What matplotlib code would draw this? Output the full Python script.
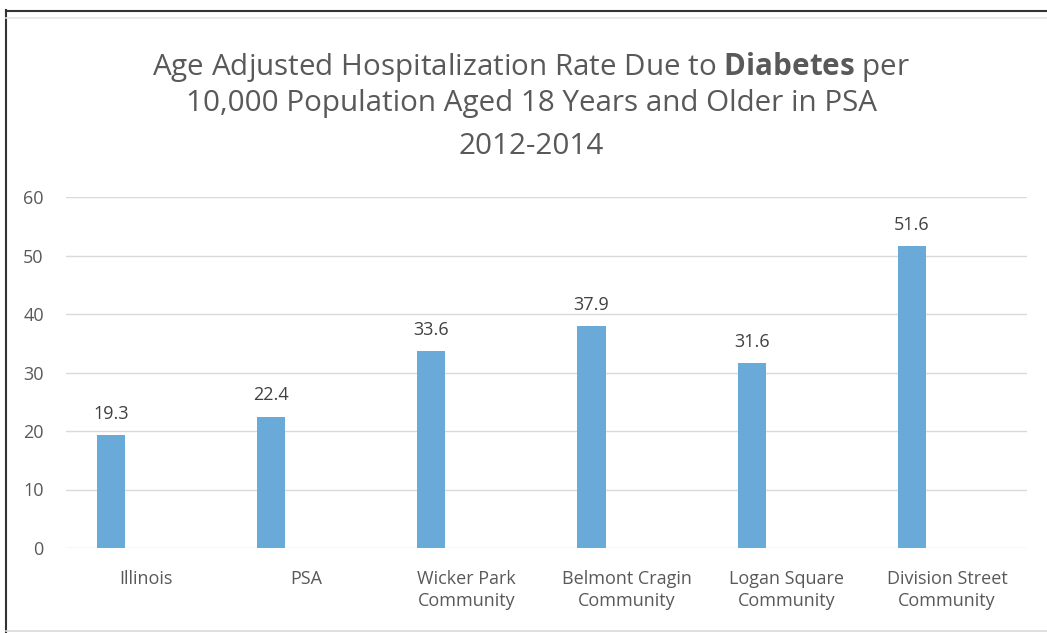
import matplotlib
matplotlib.use("Agg")
import matplotlib.pyplot as plt
from matplotlib.lines import Line2D
import numpy as np

categories = ["Illinois", "PSA", "Wicker Park\nCommunity", "Belmont Cragin\nCommunity",
              "Logan Square\nCommunity", "Division Street\nCommunity"]
values = [19.3, 22.4, 33.6, 37.9, 31.6, 51.6]
yticks = [0, 10, 20, 30, 40, 50, 60]

FONT = "Open Sans"
plt.rcParams["font.family"] = [FONT, "DejaVu Sans"]
plt.rcParams["mathtext.fontset"] = "custom"
plt.rcParams["mathtext.rm"] = FONT
plt.rcParams["mathtext.bf"] = FONT + ":bold"

W, H = 1047, 633
fig = plt.figure(figsize=(W / 100, H / 100), dpi=100)
fig.patch.set_facecolor("white")

# frame lines
fig.add_artist(Line2D([5.5 / W, 5.5 / W], [0, 1 - 10 / H], color="#333333", lw=1.5, transform=fig.transFigure))
fig.add_artist(Line2D([5.5 / W, 1], [1 - 10.5 / H, 1 - 10.5 / H], color="#333333", lw=1.5, transform=fig.transFigure))
fig.add_artist(Line2D([6 / W, 1], [1 - 17.5 / H, 1 - 17.5 / H], color="#e6e6e6", lw=1.2, transform=fig.transFigure))
fig.add_artist(Line2D([6 / W, 1], [1 - 631 / H, 1 - 631 / H], color="#d9d9d9", lw=1.2, transform=fig.transFigure))

left, right = 66 / W, 1027 / W
bottom, top = 1 - 548 / H, 1 - 197 / H
ax = fig.add_axes([left, bottom, right - left, top - bottom])

x = np.arange(len(categories))
bars = ax.bar(x - 0.219, values, width=0.175, color="#6aaad9", zorder=3)
for xi, v in zip(x, values):
    ax.annotate(f"{v}", (xi - 0.219, v), xytext=(0, 9), textcoords="offset points",
                ha="center", va="bottom", fontsize=13, color="#404040")

ax.set_xlim(-0.5, len(categories) - 0.5)
ax.set_ylim(0, 60)
ax.set_yticks(yticks)
ax.set_xticks(x)
ax.set_xticklabels(categories, fontsize=13, color="#595959", linespacing=1.3)
ax.tick_params(axis="y", labelsize=13, labelcolor="#595959", length=0, pad=16)
ax.tick_params(axis="x", length=0, pad=16)
ax.grid(axis="y", color="#d9d9d9", lw=1, zorder=0)
for s in ax.spines.values():
    s.set_visible(False)

fig.text(531 / W, 1 - 67 / H, r"Age Adjusted Hospitalization Rate Due to $\mathbf{Diabetes}$ per",
         ha="center", va="center", fontsize=21.3, color="#595959")
fig.text(531 / W, 1 - 104 / H, "10,000 Population Aged 18 Years and Older in PSA",
         ha="center", va="center", fontsize=21.3, color="#595959")
fig.text(531 / W, 1 - 146 / H, "2012-2014",
         ha="center", va="center", fontsize=21.3, color="#595959")

fig.savefig("out.png", dpi=100)
